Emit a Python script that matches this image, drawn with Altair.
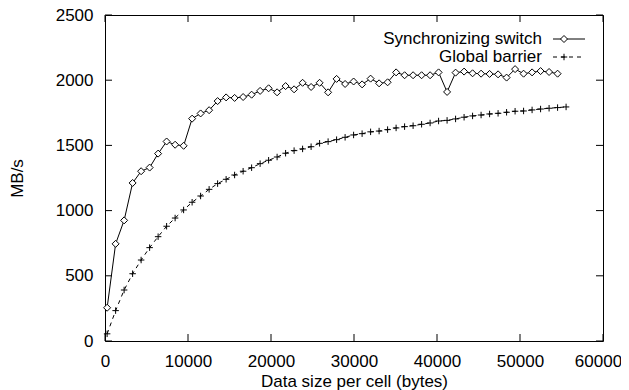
import altair as alt
import pandas as pd

# ---- data ----
sw_x = [256, 1280, 2304, 3328, 4352, 5376, 6400, 7424, 8448, 9472, 10496, 11520,
        12544, 13568, 14592, 15616, 16640, 17664, 18688, 19712, 20736, 21760, 22784,
        23808, 24832, 25856, 26880, 27904, 28928, 29952, 30976, 32000, 33024, 34048,
        35072, 36096, 37120, 38144, 39168, 40192, 41216, 42240, 43264, 44288, 45312,
        46336, 47360, 48384, 49408, 50432, 51456, 52480, 53504, 54528]
sw_y = [255, 745, 925, 1212, 1302, 1330, 1437, 1530, 1505, 1497, 1705, 1745,
        1770, 1840, 1868, 1864, 1871, 1889, 1918, 1938, 1907, 1955, 1930,
        1980, 1948, 1980, 1907, 2010, 1971, 1990, 1968, 2012, 1976, 1984,
        2060, 2038, 2038, 2038, 2038, 2060, 1910, 2058, 2066, 2053, 2050,
        2048, 2045, 2020, 2085, 2050, 2060, 2070, 2063, 2050]

gb_x = [256, 1280, 2304, 3328, 4352, 5376, 6400, 7424, 8448, 9472, 10496, 11520,
        12544, 13568, 14592, 15616, 16640, 17664, 18688, 19712, 20736, 21760, 22784,
        23808, 24832, 25856, 26880, 27904, 28928, 29952, 30976, 32000, 33024, 34048,
        35072, 36096, 37120, 38144, 39168, 40192, 41216, 42240, 43264, 44288, 45312,
        46336, 47360, 48384, 49408, 50432, 51456, 52480, 53504, 54528, 55552]
gb_y = [55, 233, 391, 516, 621, 716, 800, 880, 943, 1005, 1064, 1112,
        1163, 1207, 1240, 1273, 1302, 1329, 1360, 1386, 1411, 1440, 1460,
        1473, 1490, 1516, 1529, 1544, 1562, 1580, 1590, 1604, 1610, 1621,
        1634, 1644, 1651, 1662, 1672, 1687, 1692, 1703, 1716, 1726, 1733,
        1741, 1746, 1754, 1762, 1764, 1772, 1779, 1785, 1790, 1795]

x_ticks = [0, 10000, 20000, 30000, 40000, 50000, 60000]
y_ticks = [0, 500, 1000, 1500, 2000, 2500]
legend_labels = ["Synchronizing switch", "Global barrier"]
x_title = "Data size per cell (bytes)"
y_title = "MB/s"

FONT = "Liberation Sans"
W, H = 498, 326
TICK = 7

xs = alt.Scale(domain=[0, 60000], nice=False, zero=False)
ys = alt.Scale(domain=[0, 2500], nice=False, zero=False)

sw = pd.DataFrame({"x": sw_x, "y": sw_y})
gb = pd.DataFrame({"x": gb_x, "y": gb_y})
xt = pd.DataFrame({"x": x_ticks})
yt = pd.DataFrame({"y": y_ticks})
one = pd.DataFrame({"a": [0]})

last_x = x_ticks[-1]
x_axis = alt.Axis(values=x_ticks, format="d", title=x_title,
                  labelFlush=False, labelOverlap=False, labelPadding=12,
                  labelOffset={"condition": {"test": f"datum.value === {last_x}", "value": -5},
                               "value": 0},
                  titleY=45, titleBaseline="alphabetic")
y_axis = alt.Axis(values=y_ticks, format="d", title=y_title,
                  labelFlush=False, labelOverlap=False, labelPadding=12,
                  titleAngle=270, titleX=-88, titleY=163,
                  titleAlign="center", titleBaseline="middle")

X = alt.X("x:Q", scale=xs, axis=x_axis)
Y = alt.Y("y:Q", scale=ys, axis=y_axis)

sw_line = alt.Chart(sw).mark_line(color="black", strokeWidth=1).encode(x=X, y=Y)
sw_pts = alt.Chart(sw).mark_point(shape="diamond", filled=True, fill="white",
                                  stroke="black", strokeWidth=1, size=49, opacity=1).encode(x=X, y=Y)
gb_line = alt.Chart(gb).mark_line(color="black", strokeWidth=1, strokeDash=[4, 4]).encode(x=X, y=Y)
PLUS = "M-1,0H1M0,-1V1"
gb_pts = alt.Chart(gb).mark_point(shape=PLUS, filled=False, stroke="black",
                                  strokeWidth=1, size=42, opacity=1).encode(x=X, y=Y)

# inward ticks on all four sides (gnuplot style)
yl = alt.Chart(yt).mark_rule(color="black", strokeWidth=1).encode(
    y=Y, x=alt.value(0), x2=alt.value(TICK))
yr = alt.Chart(yt).mark_rule(color="black", strokeWidth=1).encode(
    y=Y, x=alt.value(W - TICK), x2=alt.value(W))
xb = alt.Chart(xt).mark_rule(color="black", strokeWidth=1).encode(
    x=X, y=alt.value(H - TICK), y2=alt.value(H))
xtp = alt.Chart(xt).mark_rule(color="black", strokeWidth=1).encode(
    x=X, y=alt.value(0), y2=alt.value(TICK))

# legend (gnuplot style: label, then sample line with marker)
LX_TEXT, LX0, LX1, LXM = 437, 448, 480, 459
LY1, LY2 = 24, 42
t1 = alt.Chart(pd.DataFrame({"t": [legend_labels[0]]})).mark_text(
    align="right", baseline="middle", font=FONT, fontSize=17, color="black").encode(
    text="t:N", x=alt.value(LX_TEXT), y=alt.value(LY1))
t2 = alt.Chart(pd.DataFrame({"t": [legend_labels[1]]})).mark_text(
    align="right", baseline="middle", font=FONT, fontSize=17, color="black").encode(
    text="t:N", x=alt.value(LX_TEXT), y=alt.value(LY2))
l1 = alt.Chart(one).mark_rule(color="black", strokeWidth=1).encode(
    x=alt.value(LX0), x2=alt.value(LX1), y=alt.value(LY1))
l2 = alt.Chart(one).mark_rule(color="black", strokeWidth=1, strokeDash=[4, 4]).encode(
    x=alt.value(LX0), x2=alt.value(LX1), y=alt.value(LY2))
m1 = alt.Chart(one).mark_point(shape="diamond", filled=True, fill="white",
                               stroke="black", strokeWidth=1, size=49, opacity=1).encode(
    x=alt.value(LXM), y=alt.value(LY1))
m2 = alt.Chart(one).mark_point(shape=PLUS, filled=False, stroke="black",
                               strokeWidth=1, size=42, opacity=1).encode(
    x=alt.value(LXM), y=alt.value(LY2))

chart = alt.layer(
    sw_line, gb_line, sw_pts, gb_pts, yl, yr, xb, xtp, t1, t2, l1, l2, m1, m2
).properties(
    width=W, height=H,
    autosize=alt.AutoSizeParams(type="none"),
    padding={"left": 97, "top": 7, "right": 18, "bottom": 49},
    background="white",
).configure_view(
    stroke="black", strokeWidth=1
).configure_axis(
    grid=False, domain=False, ticks=False, tickSize=0,
    labelFont=FONT, labelFontSize=17, labelColor="black",
    titleFont=FONT, titleFontSize=17, titleFontWeight="normal", titleColor="black",
)

chart.save("out.html", embed_options={"renderer": "svg", "actions": False})
